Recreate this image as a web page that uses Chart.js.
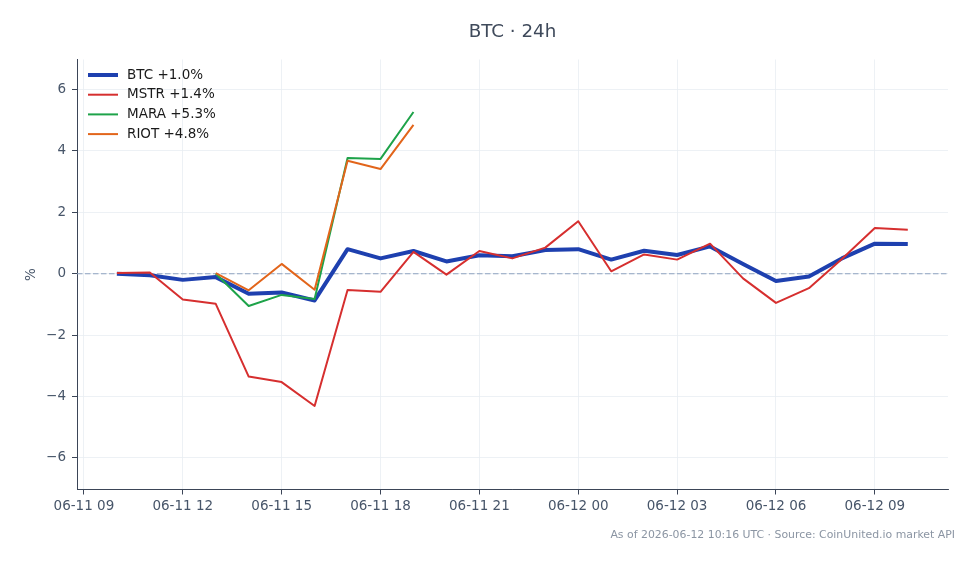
<!DOCTYPE html>
<html>
<head>
<meta charset="utf-8">
<script src="https://cdn.jsdelivr.net/npm/chart.js@4.4.1/dist/chart.umd.min.js"></script>
<style>
  html, body { margin: 0; padding: 0; background: #ffffff; }
  canvas { display: block; }
</style>
</head>
<body>
<canvas id="mycanvas" width="979" height="564"></canvas>
<script>
// hours after 06-11 09:00 UTC
var hours = [1, 2, 3, 4, 5, 6, 7, 8, 9, 10, 11, 12, 13, 14, 15, 16, 17, 18, 19, 20, 21, 22, 23, 24, 25];

var btc  = [0.00, -0.05, -0.20, -0.11, -0.65, -0.61, -0.87, 0.80, 0.50, 0.74, 0.40, 0.60, 0.57, 0.77, 0.80, 0.46, 0.75, 0.61, 0.89, 0.32, -0.24, -0.09, 0.50, 0.98, 0.97];
var mstr = [0.02, 0.04, -0.84, -0.98, -3.35, -3.53, -4.31, -0.53, -0.59, 0.71, -0.03, 0.74, 0.50, 0.85, 1.71, 0.08, 0.63, 0.46, 0.98, -0.15, -0.95, -0.47, 0.48, 1.49, 1.43];
var mara = [null, null, null, 0.00, -1.05, -0.69, -0.82, 3.77, 3.74, 5.27, null, null, null, null, null, null, null, null, null, null, null, null, null, null, null];
var riot = [null, null, null, 0.02, -0.54, 0.32, -0.52, 3.68, 3.41, 4.85, null, null, null, null, null, null, null, null, null, null, null, null, null, null, null];

var seriesLabels = ['BTC +1.0%', 'MSTR +1.4%', 'MARA +5.3%', 'RIOT +4.8%'];

var xTickValues = [0, 3, 6, 9, 12, 15, 18, 21, 24];
var xTickLabels = ['06-11 09', '06-11 12', '06-11 15', '06-11 18', '06-11 21', '06-12 00', '06-12 03', '06-12 06', '06-12 09'];
var yTickValues = [-6, -4, -2, 0, 2, 4, 6];

var FONT = "'DejaVu Sans', sans-serif";

function toPoints(vals) {
	var pts = [];
	for (var i in hours) {
		pts.push({ x: hours[i], y: vals[i] });
	}
	return pts;
}

var colors = ['#1e40af', '#d62f2f', '#1ea34a', '#e2651b'];
var widths = [4, 2, 2, 2];

var extras = {
	id: 'extras',
	beforeDatasetsDraw: function(chart) {
		var ctx = chart.ctx;
		var area = chart.chartArea;
		var y0 = chart.scales.y.getPixelForValue(0);
		ctx.save();
		ctx.strokeStyle = '#8ea2c0';
		ctx.lineWidth = 1.2;
		ctx.setLineDash([5.5, 2.5]);
		ctx.beginPath();
		ctx.moveTo(area.left, y0);
		ctx.lineTo(area.right, y0);
		ctx.stroke();
		ctx.restore();
	},
	afterDraw: function(chart) {
		var ctx = chart.ctx;
		var area = chart.chartArea;
		ctx.save();

		// title
		ctx.fillStyle = '#3f4a5b';
		ctx.font = '18.3px ' + FONT;
		ctx.textAlign = 'center';
		ctx.textBaseline = 'middle';
		ctx.fillText('BTC \u00b7 24h', (area.left + area.right) / 2, 32);

		// y axis label
		ctx.save();
		ctx.translate(31, (area.top + area.bottom) / 2);
		ctx.rotate(-Math.PI / 2);
		ctx.fillStyle = '#475569';
		ctx.font = '13.5px ' + FONT;
		ctx.fillText('%', 0, 0);
		ctx.restore();

		// footer
		ctx.fillStyle = '#8b95a3';
		ctx.font = '10.9px ' + FONT;
		ctx.textAlign = 'right';
		ctx.textBaseline = 'alphabetic';
		ctx.fillText('As of 2026-06-12 10:16 UTC \u00b7 Source: CoinUnited.io market API', 955, 538);

		// legend
		ctx.font = '13.5px ' + FONT;
		ctx.textAlign = 'left';
		ctx.textBaseline = 'middle';
		var ds = chart.data.datasets;
		for (var i = 0; i < ds.length; i++) {
			var yy = 75 + i * 19.7;
			ctx.strokeStyle = ds[i].borderColor;
			ctx.lineWidth = ds[i].borderWidth;
			ctx.beginPath();
			ctx.moveTo(88, yy);
			ctx.lineTo(118, yy);
			ctx.stroke();
			ctx.fillStyle = '#1a1a1a';
			ctx.fillText(ds[i].label, 127, yy);
		}
		ctx.restore();
	}
};

var allSeries = [btc, mstr, mara, riot];
var datasets = [];
for (var k = 0; k < allSeries.length; k++) {
	datasets.push({
		label: seriesLabels[k],
		data: toPoints(allSeries[k]),
		borderColor: colors[k],
		backgroundColor: colors[k],
		borderWidth: widths[k],
		pointRadius: 0,
		pointHoverRadius: 0,
		tension: 0,
		spanGaps: false,
		borderJoinStyle: 'round',
		borderCapStyle: 'butt',
		order: allSeries.length - k
	});
}

var ctx = document.getElementById('mycanvas');
var lineGraph = new Chart(ctx, {
	type: 'line',
	data: { datasets: datasets },
	plugins: [extras],
	options: {
		responsive: false,
		animation: false,
		layout: { padding: { top: 59.5, right: 31, bottom: 44.5, left: 0 } },
		plugins: {
			legend: { display: false },
			title: { display: false },
			tooltip: { enabled: false }
		},
		scales: {
			x: {
				type: 'linear',
				min: -0.21,
				max: 26.22,
				afterFit: function(scale) { scale.height = 30; },
				afterBuildTicks: function(scale) {
					scale.ticks = xTickValues.map(function(v) { return { value: v }; });
				},
				ticks: {
					color: '#475569',
					font: { family: FONT, size: 13.5 },
					padding: 4,
					maxRotation: 0,
					autoSkip: false,
					callback: function(value) {
						var idx = xTickValues.indexOf(value);
						return idx >= 0 ? xTickLabels[idx] : '';
					}
				},
				grid: { color: '#e9edf2', lineWidth: 0.8, tickColor: '#3b4557', tickLength: 5, tickWidth: 1 },
				border: { display: true, color: '#3b4557', width: 1 }
			},
			y: {
				type: 'linear',
				min: -7.03,
				max: 6.98,
				afterFit: function(scale) { scale.width = 77; },
				afterBuildTicks: function(scale) {
					scale.ticks = yTickValues.map(function(v) { return { value: v }; });
				},
				ticks: {
					color: '#475569',
					font: { family: FONT, size: 13.5 },
					padding: 6,
					callback: function(value) {
						return value < 0 ? '\u2212' + Math.abs(value) : String(value);
					}
				},
				grid: { color: '#e9edf2', lineWidth: 0.8, tickColor: '#3b4557', tickLength: 5, tickWidth: 1 },
				border: { display: true, color: '#3b4557', width: 1 }
			}
		}
	}
});
</script>
</body>
</html>
